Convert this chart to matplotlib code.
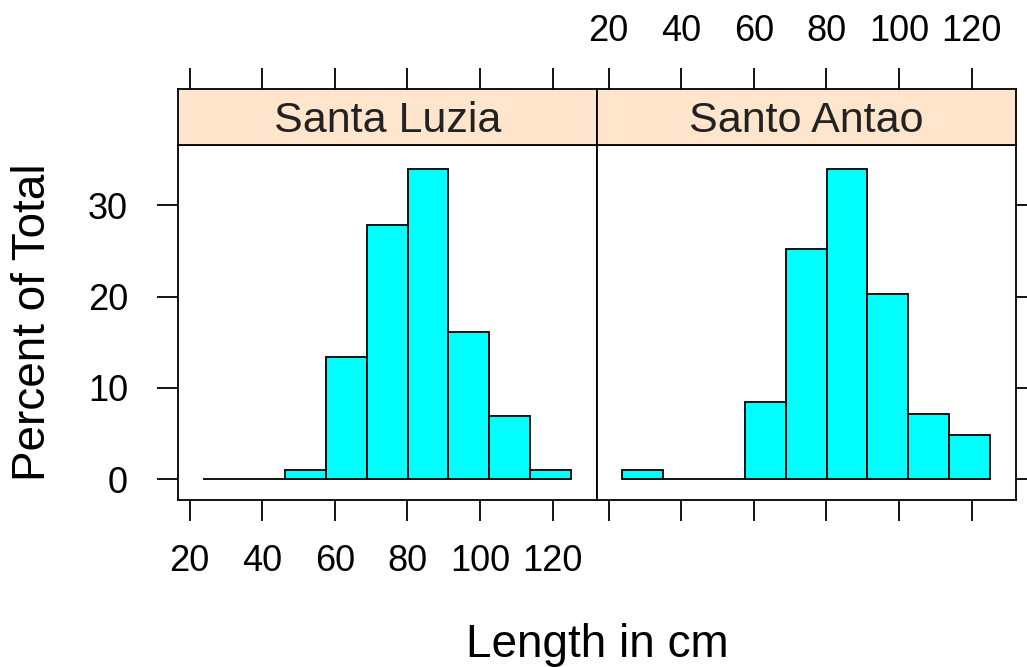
import numpy as np
import matplotlib.pyplot as plt

plt.rcParams['font.family'] = ['Liberation Sans', 'DejaVu Sans']

# Shared histogram breaks (cm) and percent of total per bin for each island
bin_edges = np.linspace(23.8, 125.0, 10)
islands = ['Santa Luzia', 'Santo Antao']
pct_santa_luzia = [0, 0, 1.0, 13.4, 27.8, 34.0, 16.1, 6.9, 1.0]
pct_santo_antao = [1.0, 0, 0, 8.5, 25.2, 34.0, 20.3, 7.2, 4.9]
percents = [pct_santa_luzia, pct_santo_antao]

x_ticks = [20, 40, 60, 80, 100, 120]
y_ticks = [0, 10, 20, 30]

W, H = 1027, 667
fig = plt.figure(figsize=(W / 100, H / 100), dpi=100)

panel_x = [178, 597]
panel_w = 419
plot_top, plot_bottom = 145, 500
strip_top = 89

tick_fs = 26
tick_len = 15
lw = 1.3

for i, (name, pct) in enumerate(zip(islands, percents)):
    x0 = panel_x[i]
    ax = fig.add_axes([x0 / W, 1 - plot_bottom / H, panel_w / W, (plot_bottom - plot_top) / H])
    widths = np.diff(bin_edges)
    ax.bar(bin_edges[:-1], pct, width=widths, align='edge',
           color='#00FFFF', edgecolor='black', linewidth=lw)
    ax.set_xlim(16.8, 132.2)
    ax.set_ylim(-2.27, 36.6)
    ax.set_xticks(x_ticks)
    ax.set_yticks(y_ticks)
    for s in ax.spines.values():
        s.set_linewidth(lw)
    ax.tick_params(direction='out', length=tick_len, width=lw, labelsize=tick_fs,
                   top=False, right=True)
    if i == 0:
        ax.tick_params(axis='x', labelbottom=True, pad=17)
        ax.tick_params(axis='y', labelleft=True, pad=21)
    else:
        ax.tick_params(axis='x', labelbottom=False)
        ax.tick_params(axis='y', labelleft=False, left=False)

    # strip on top of each panel, carrying the top axis ticks
    sax = fig.add_axes([x0 / W, 1 - plot_top / H, panel_w / W, (plot_top - strip_top) / H])
    sax.set_facecolor('#FFE5CC')
    sax.set_xlim(ax.get_xlim())
    sax.set_ylim(0, 1)
    sax.set_yticks([])
    sax.set_xticks(x_ticks)
    for s in sax.spines.values():
        s.set_linewidth(lw)
    sax.tick_params(axis='x', direction='out', length=tick_len, width=lw,
                    bottom=False, labelbottom=False, top=True,
                    labeltop=(i == 1), labelsize=tick_fs, pad=14)
    sax.text(0.5, 0.42, name, transform=sax.transAxes, ha='center', va='center',
             fontsize=31, color='#222222')

fig.text(597 / W, 1 - 645 / H, 'Length in cm', ha='center', va='center', fontsize=33)
fig.text(33 / W, 1 - 322 / H, 'Percent of Total', ha='center', va='center',
         rotation=90, fontsize=33)

fig.savefig('out.png', dpi=100, facecolor='white')
